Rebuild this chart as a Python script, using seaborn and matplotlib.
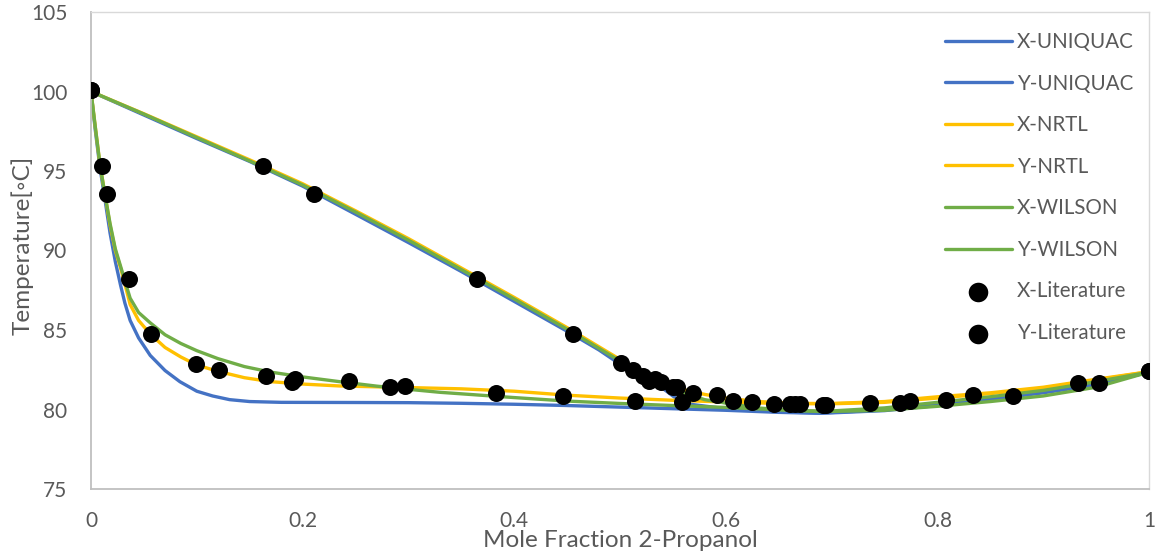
import matplotlib
matplotlib.use("Agg")
import matplotlib.pyplot as plt
import seaborn as sns

# ---- data ----
x_uniquac_x = [0, 0.004, 0.0085, 0.013, 0.018, 0.023, 0.028, 0.032, 0.037, 0.045, 0.056, 0.07, 0.084, 0.1, 0.115, 0.131,
               0.15, 0.18, 0.25, 0.3, 0.35, 0.4, 0.45, 0.5, 0.55, 0.6, 0.65, 0.69, 0.75, 0.8, 0.85, 0.9, 0.95, 1.0]
t_uniquac_x = [100.0, 97.6, 95.2, 93.3, 91.1, 89.3, 87.8, 86.7, 85.6, 84.5, 83.4, 82.45, 81.75, 81.15, 80.85, 80.62,
               80.5, 80.45, 80.44, 80.43, 80.39, 80.33, 80.25, 80.15, 80.05, 79.95, 79.82, 79.76, 79.93, 80.25, 80.62, 81.05, 81.55, 82.35]

x_uniquac_y = [0, 0.05, 0.1, 0.15, 0.2, 0.25, 0.3, 0.35, 0.4, 0.45, 0.48, 0.5, 0.52, 0.54, 0.555, 0.57, 0.6, 0.65,
               0.69, 0.75, 0.8, 0.85, 0.9, 0.95, 1.0]
t_uniquac_y = [100.0, 98.52, 97.04, 95.6, 94.05, 92.28, 90.5, 88.68, 86.8, 84.92, 83.75, 82.85, 82.1, 81.35, 80.6, 80.3,
               80.05, 79.85, 79.78, 79.97, 80.3, 80.68, 81.1, 81.6, 82.35]

x_nrtl_x = [0, 0.004, 0.0085, 0.013, 0.018, 0.023, 0.028, 0.032, 0.037, 0.045, 0.056, 0.07, 0.085, 0.1, 0.12, 0.145,
            0.17, 0.2, 0.235, 0.3, 0.35, 0.4, 0.45, 0.5, 0.55, 0.6, 0.65, 0.7, 0.75, 0.8, 0.85, 0.9, 0.95, 1.0]
t_nrtl_x = [100.0, 97.8, 95.4, 93.6, 91.6, 90.0, 88.9, 87.9, 86.6, 85.6, 84.75, 83.9, 83.3, 82.8, 82.4, 82.0,
            81.75, 81.6, 81.48, 81.38, 81.3, 81.15, 80.9, 80.72, 80.58, 80.47, 80.38, 80.36, 80.45, 80.72, 81.0, 81.35, 81.85, 82.38]

x_nrtl_y = [0, 0.05, 0.1, 0.15, 0.2, 0.25, 0.3, 0.35, 0.4, 0.45, 0.48, 0.5, 0.52, 0.54, 0.56, 0.58, 0.6, 0.63,
            0.67, 0.7, 0.75, 0.8, 0.85, 0.9, 0.95, 1.0]
t_nrtl_y = [100.0, 98.6, 97.15, 95.7, 94.2, 92.5, 90.75, 88.9, 87.05, 85.15, 83.95, 83.15, 82.4, 81.75, 81.25, 80.95,
            80.72, 80.5, 80.38, 80.38, 80.5, 80.8, 81.05, 81.4, 81.9, 82.38]

x_wilson_x = [0, 0.004, 0.0085, 0.013, 0.018, 0.023, 0.028, 0.032, 0.037, 0.045, 0.056, 0.07, 0.085, 0.1, 0.12, 0.145,
              0.17, 0.2, 0.235, 0.27, 0.3, 0.33, 0.4, 0.45, 0.5, 0.55, 0.6, 0.65, 0.7, 0.75, 0.8, 0.85, 0.9, 0.95, 1.0]
t_wilson_x = [100.0, 97.8, 95.4, 93.6, 91.7, 90.1, 89.0, 88.1, 87.0, 86.1, 85.45, 84.7, 84.15, 83.7, 83.2, 82.7,
              82.35, 82.05, 81.75, 81.47, 81.27, 81.08, 80.75, 80.53, 80.38, 80.25, 80.13, 79.98, 79.88, 79.95, 80.2, 80.5, 80.85, 81.4, 82.35]

x_wilson_y = [0, 0.05, 0.1, 0.15, 0.2, 0.25, 0.3, 0.35, 0.4, 0.45, 0.48, 0.5, 0.52, 0.54, 0.56, 0.58, 0.6, 0.63,
              0.66, 0.69, 0.75, 0.8, 0.85, 0.9, 0.95, 1.0]
t_wilson_y = [100.0, 98.58, 97.1, 95.63, 94.12, 92.42, 90.65, 88.8, 86.95, 85.05, 83.85, 83.05, 82.25, 81.6, 81.05, 80.62,
              80.4, 80.1, 79.95, 79.87, 80.1, 80.45, 80.8, 81.2, 81.75, 82.35]

x_lit = [0, 0.0104, 0.0151, 0.0359, 0.0567, 0.0992, 0.121, 0.1654, 0.19, 0.193, 0.244, 0.283, 0.297, 0.383, 0.446,
         0.514, 0.559, 0.607, 0.646, 0.661, 0.692, 0.736, 0.765, 0.808, 0.871, 0.933, 1.0]
t_x_lit = [100.1, 95.3, 93.55, 88.2, 84.75, 82.86, 82.48, 82.1, 81.75, 81.9, 81.8, 81.4, 81.5, 81.05, 80.85,
           80.55, 80.5, 80.55, 80.35, 80.35, 80.3, 80.4, 80.4, 80.6, 80.85, 81.65, 82.4]

y_lit = [0, 0.1626, 0.211, 0.365, 0.456, 0.501, 0.512, 0.522, 0.527, 0.533, 0.539, 0.550, 0.554, 0.569, 0.592,
         0.625, 0.665, 0.670, 0.695, 0.774, 0.834, 0.953, 1.0]
t_y_lit = [100.1, 95.3, 93.55, 88.2, 84.75, 82.9, 82.5, 82.1, 81.8, 81.9, 81.75, 81.4, 81.4, 81.05, 80.9,
           80.5, 80.35, 80.35, 80.3, 80.55, 80.9, 81.65, 82.4]

BLUE = "#4472C4"
YELLOW = "#FFC000"
GREEN = "#70AD47"
GREY = "#595959"

sns.set_theme(style="white")
plt.rcParams["font.family"] = ["Lato", "DejaVu Sans"]

fig = plt.figure(figsize=(11.55, 5.56), dpi=100)
ax = fig.add_axes([91 / 1155, 1 - 489 / 556, 1058 / 1155, 477 / 556])

lw = 2.4
curves = [
    (x_uniquac_x, t_uniquac_x, BLUE, "X-UNIQUAC"),
    (x_uniquac_y, t_uniquac_y, BLUE, "Y-UNIQUAC"),
    (x_nrtl_x, t_nrtl_x, YELLOW, "X-NRTL"),
    (x_nrtl_y, t_nrtl_y, YELLOW, "Y-NRTL"),
    (x_wilson_x, t_wilson_x, GREEN, "X-WILSON"),
    (x_wilson_y, t_wilson_y, GREEN, "Y-WILSON"),
]
for xs, ts, c, lab in curves:
    sns.lineplot(x=xs, y=ts, color=c, linewidth=lw, sort=False, estimator=None, label=lab, ax=ax)

sns.scatterplot(x=x_lit, y=t_x_lit, color="black", s=150, linewidth=0, label="X-Literature", ax=ax, zorder=5)
sns.scatterplot(x=y_lit, y=t_y_lit, color="black", s=150, linewidth=0, label="Y-Literature", ax=ax, zorder=5)

ax.set_xlim(0, 1)
ax.set_ylim(75, 105)
ax.set_xticks([0, 0.2, 0.4, 0.6, 0.8, 1.0])
ax.set_xticklabels(["0", "0.2", "0.4", "0.6", "0.8", "1"])
ax.set_yticks([75, 80, 85, 90, 95, 100, 105])
ax.tick_params(axis="both", length=0, labelsize=15, labelcolor=GREY)
ax.tick_params(axis="x", pad=16)
ax.tick_params(axis="y", pad=17)

for side in ["left", "bottom"]:
    ax.spines[side].set_color("#BFBFBF")
    ax.spines[side].set_linewidth(1.3)
for side in ["top", "right"]:
    ax.spines[side].set_color("#D9D9D9")
    ax.spines[side].set_linewidth(1.0)

ax.set_xlabel("Mole Fraction 2-Propanol", fontsize=17.5, color=GREY)
ax.set_ylabel("Temperature[◦C]", fontsize=17.5, color=GREY)
ax.xaxis.set_label_coords(0.5, -0.086)
ax.yaxis.set_label_coords(-0.054, 0.51)

leg = ax.legend(loc="upper right", bbox_to_anchor=(1.003, 0.997), frameon=False,
                fontsize=14.8, labelspacing=1.05, handlelength=3.25, handletextpad=0.25,
                markerscale=1.15)
for t in leg.get_texts():
    t.set_color(GREY)

fig.savefig("out.png", dpi=100)
